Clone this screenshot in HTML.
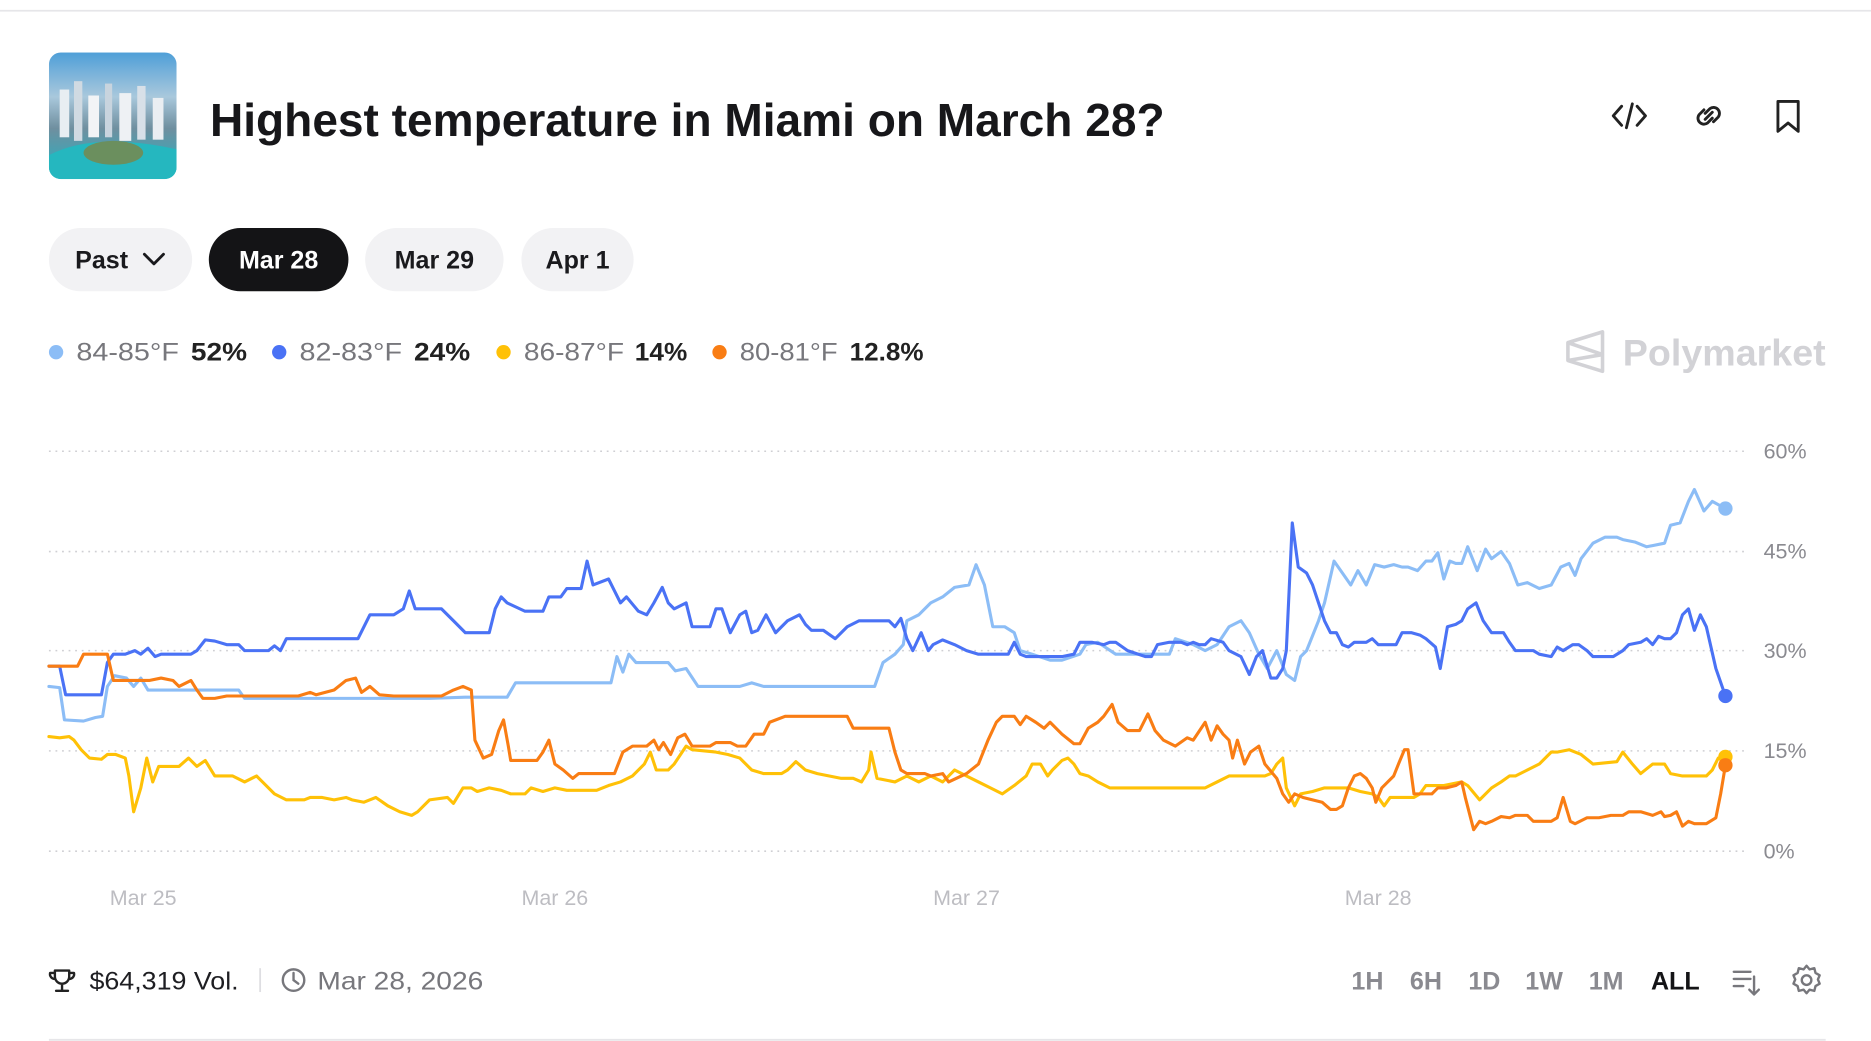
<!DOCTYPE html>
<html><head><meta charset="utf-8"><style>
html,body{margin:0;padding:0;background:#fff;overflow:hidden}
svg{display:block}
text{font-family:"Liberation Sans",sans-serif}
</style></head><body>
<svg width="1871" height="1041" viewBox="0 0 1568 872" preserveAspectRatio="none" xmlns="http://www.w3.org/2000/svg">
<defs>
<linearGradient id="sky" x1="0" y1="0" x2="0" y2="1">
<stop offset="0" stop-color="#4f9fd8"/><stop offset="0.35" stop-color="#a9c8dc"/><stop offset="0.6" stop-color="#6f8f9f"/><stop offset="1" stop-color="#1fb3c4"/></linearGradient>
<clipPath id="thumb"><rect x="41" y="44" width="107" height="106" rx="10"/></clipPath>
</defs>
<line x1="0" y1="9" x2="1568" y2="9" stroke="#e6e6e9" stroke-width="1.5"/>
<g clip-path="url(#thumb)">
<rect x="41" y="44" width="107" height="106" fill="url(#sky)"/>
<rect x="50" y="75" width="8" height="40" fill="#e8eef2"/><rect x="62" y="68" width="7" height="50" fill="#d0dae2"/><rect x="74" y="80" width="9" height="35" fill="#f2f4f6"/><rect x="88" y="70" width="6" height="45" fill="#c8d4de"/><rect x="100" y="78" width="10" height="40" fill="#eef1f4"/><rect x="115" y="72" width="7" height="45" fill="#d8e0e8"/><rect x="128" y="82" width="9" height="35" fill="#eaeef2"/>
<path d="M41 130 Q80 110 148 125 L148 150 L41 150Z" fill="#25b7bf"/>
<ellipse cx="95" cy="128" rx="25" ry="10" fill="#6b8f5e"/>
</g>
<text x="176" y="114" font-size="39" font-weight="700" fill="#17171a" textLength="800" lengthAdjust="spacingAndGlyphs">Highest temperature in Miami on March 28?</text>
<g fill="none" stroke="#222" stroke-width="2.4" stroke-linecap="round" stroke-linejoin="round">
<path d="M1359 89 L1352 97 L1359 105 M1372 89 L1379 97 L1372 105 M1368 87 L1363 107"/>
<path d="M1428 92 l-4 4 a5 5 0 0 0 7 7 l4 -4 M1436 102 l4 -4 a5 5 0 0 0 -7 -7 l-4 4 M1429 100 l6 -6"/>
<path d="M1490 85 h17 v25 l-8.5 -7 l-8.5 7 z"/>
</g>
<rect x="41" y="191" width="120" height="53" rx="26.5" fill="#f2f2f4"/>
<text x="63" y="225" font-size="21" font-weight="700" fill="#1a1a1d">Past</text>
<path d="M121 213 l8 8 l8 -8" fill="none" stroke="#1a1a1d" stroke-width="2.4" stroke-linecap="round" stroke-linejoin="round"/>
<rect x="175" y="191" width="117" height="53" rx="26.5" fill="#141416"/>
<text x="233.5" y="225" font-size="21" font-weight="700" fill="#fff" text-anchor="middle">Mar 28</text>
<rect x="306" y="191" width="116" height="53" rx="26.5" fill="#f2f2f4"/>
<text x="364" y="225" font-size="21" font-weight="700" fill="#1a1a1d" text-anchor="middle">Mar 29</text>
<rect x="437" y="191" width="94" height="53" rx="26.5" fill="#f2f2f4"/>
<text x="484" y="225" font-size="21" font-weight="700" fill="#1a1a1d" text-anchor="middle">Apr 1</text>
<g font-size="21">
<circle cx="47" cy="295" r="6" fill="#8cbdf6"/><text x="64" y="302" fill="#77777c" textLength="86" lengthAdjust="spacingAndGlyphs">84-85°F</text><text x="160" y="302" fill="#222" font-weight="700" textLength="47" lengthAdjust="spacingAndGlyphs">52%</text>
<circle cx="234" cy="295" r="6" fill="#4a72f5"/><text x="251" y="302" fill="#77777c" textLength="86" lengthAdjust="spacingAndGlyphs">82-83°F</text><text x="347" y="302" fill="#222" font-weight="700" textLength="47" lengthAdjust="spacingAndGlyphs">24%</text>
<circle cx="422" cy="295" r="6" fill="#ffc107"/><text x="439" y="302" fill="#77777c" textLength="84" lengthAdjust="spacingAndGlyphs">86-87°F</text><text x="532" y="302" fill="#222" font-weight="700" textLength="44" lengthAdjust="spacingAndGlyphs">14%</text>
<circle cx="603" cy="295" r="6" fill="#f97d14"/><text x="620" y="302" fill="#77777c" textLength="82" lengthAdjust="spacingAndGlyphs">80-81°F</text><text x="712" y="302" fill="#222" font-weight="700" textLength="62" lengthAdjust="spacingAndGlyphs">12.8%</text>
</g>
<g fill="none" stroke="#d2d2d6" stroke-width="3" stroke-linejoin="round">
<path d="M1314 287 L1343 278 L1343 311 L1314 302 Z M1314 287 L1343 297 L1314 302"/>
</g>
<text x="1360" y="306" font-size="31" font-weight="700" fill="#d2d2d6" textLength="170" lengthAdjust="spacingAndGlyphs">Polymarket</text>
<g stroke="#cfcfd3" stroke-width="1.3" stroke-dasharray="1.5 4">
<line x1="41" y1="378" x2="1462" y2="378"/><line x1="41" y1="462" x2="1462" y2="462"/><line x1="41" y1="545" x2="1462" y2="545"/><line x1="41" y1="629" x2="1462" y2="629"/><line x1="41" y1="713" x2="1462" y2="713"/>
</g>
<g font-size="18" fill="#8a8a90">
<text x="1478" y="384">60%</text><text x="1478" y="468">45%</text><text x="1478" y="551">30%</text><text x="1478" y="635">15%</text><text x="1478" y="719">0%</text>
</g>
<g font-size="18" fill="#bdbdc2" text-anchor="middle">
<text x="120" y="758">Mar 25</text><text x="465" y="758">Mar 26</text><text x="810" y="758">Mar 27</text><text x="1155" y="758">Mar 28</text>
</g>
<g fill="none" stroke-width="2.6" stroke-linejoin="round" stroke-linecap="round">
<polyline stroke="#8cbdf6" points="41,575 50,576 54,603 70,604 80,601 86,600 90,575 96,566 106,568 112,575 118,568 124,578 160,578 175,578 200,578 205,585 230,585 300,585 330,585 360,585 390,584 425,584 432,572 500,572 512,572 517,550 522,563 527,548 533,555 560,555 566,562 575,560 585,575 620,575 630,572 640,575 700,575 733,575 740,555 750,548 757,540 760,520 770,515 780,505 790,500 800,492 812,490 818,473 825,490 832,525 842,525 850,530 855,545 865,548 880,553 890,553 905,548 910,540 920,538 935,548 960,548 980,548 985,535 1000,540 1010,545 1020,540 1030,525 1040,520 1047,530 1055,548 1062,560 1070,545 1078,565 1085,570 1090,550 1095,545 1105,520 1110,505 1118,470 1125,480 1132,490 1138,478 1145,490 1152,473 1160,475 1168,473 1175,475 1180,475 1188,478 1195,470 1200,470 1205,463 1210,485 1215,470 1220,472 1225,472 1230,458 1238,478 1245,460 1250,468 1258,462 1265,472 1272,490 1280,488 1290,493 1300,490 1308,475 1315,472 1320,482 1325,468 1335,455 1345,450 1355,450 1360,452 1370,454 1380,458 1395,455 1400,440 1408,438 1415,420 1420,410 1428,428 1435,420 1446,426"/>
<polyline stroke="#4a72f5" points="41,558 50,558 55,582 85,582 90,555 95,548 105,548 113,545 118,548 124,543 130,550 135,548 160,548 165,545 172,536 180,537 190,540 200,540 205,545 225,545 230,541 235,545 240,535 300,535 310,515 330,515 338,510 343,495 348,510 370,510 380,520 390,530 410,530 415,510 420,500 425,505 440,512 455,512 460,500 470,500 475,493 487,493 492,470 497,490 510,485 515,495 520,505 525,500 535,512 542,515 548,505 555,492 560,505 565,510 575,505 580,525 595,525 600,510 605,510 612,530 620,515 625,512 630,530 635,528 642,515 650,530 655,525 660,520 670,515 675,523 680,528 690,528 700,535 710,525 720,520 730,520 745,520 750,525 755,518 760,535 765,545 772,530 778,545 782,540 790,536 800,540 810,545 820,548 845,548 850,538 855,548 860,550 890,550 900,548 905,538 915,538 925,540 930,538 935,538 945,545 960,550 965,550 970,540 980,538 990,538 995,540 1000,538 1005,540 1010,540 1015,535 1025,538 1030,545 1040,550 1047,565 1053,550 1058,545 1065,568 1070,568 1075,560 1078,545 1083,438 1088,475 1095,480 1100,490 1105,505 1110,520 1115,530 1120,530 1125,540 1130,542 1135,538 1145,538 1150,535 1155,540 1170,540 1175,530 1183,530 1190,532 1195,535 1203,542 1207,560 1213,525 1220,523 1225,520 1230,510 1237,505 1243,520 1250,530 1260,530 1265,538 1270,545 1278,545 1285,545 1290,548 1300,550 1305,542 1310,545 1318,540 1323,540 1330,545 1335,550 1345,550 1352,550 1360,545 1365,540 1375,538 1380,535 1385,540 1390,533 1395,535 1400,535 1405,530 1410,515 1415,510 1420,528 1425,515 1430,525 1438,560 1446,583"/>
<polyline stroke="#ffc107" points="41,617 50,618 58,617 62,620 68,628 75,635 85,636 90,632 97,632 105,635 108,650 112,680 118,660 123,635 128,655 133,642 150,642 158,635 165,642 172,637 180,650 195,650 205,655 215,650 220,655 230,665 240,670 255,670 260,668 270,668 280,670 290,668 295,670 305,672 315,668 325,675 335,680 345,683 350,680 360,670 375,668 380,673 388,660 395,660 400,663 410,660 420,662 428,665 440,665 445,660 455,663 465,660 475,662 500,662 510,658 520,655 530,650 540,640 545,630 550,645 560,645 565,640 575,625 580,628 600,630 610,632 620,635 630,645 640,648 655,648 660,645 667,638 675,645 685,648 695,650 705,652 715,652 722,655 728,645 730,630 735,652 750,655 760,650 770,655 780,650 790,655 800,645 810,650 820,655 830,660 840,665 850,658 860,650 865,640 872,640 878,650 882,645 890,637 895,635 900,640 905,648 912,650 920,655 930,660 990,660 1010,660 1020,655 1030,650 1060,650 1065,648 1070,640 1075,635 1078,660 1085,675 1090,665 1100,663 1110,660 1130,660 1140,663 1150,665 1155,668 1160,675 1165,668 1175,668 1185,668 1190,665 1195,658 1210,658 1225,655 1230,658 1240,670 1250,660 1258,655 1265,650 1270,650 1280,645 1290,640 1300,630 1305,630 1315,628 1320,630 1325,632 1335,640 1355,638 1360,630 1368,640 1375,648 1385,640 1395,640 1400,648 1410,650 1420,650 1430,650 1435,645 1440,635 1446,634"/>
<polyline stroke="#f97d14" points="41,558 65,558 70,548 90,548 95,570 110,570 125,570 135,568 145,570 150,575 160,570 165,578 170,585 180,585 190,583 230,583 250,583 260,580 265,582 280,578 290,570 298,568 303,580 310,575 318,582 330,583 370,583 380,578 388,575 395,578 398,620 405,635 412,632 418,612 422,603 426,625 428,637 450,637 455,630 460,620 465,640 472,645 480,652 485,648 495,648 515,648 522,630 530,625 542,625 548,620 552,628 556,622 562,632 568,618 574,615 580,625 595,625 600,622 612,622 618,625 625,625 632,615 640,615 645,605 658,600 710,600 715,610 728,610 745,610 750,630 755,645 760,648 775,648 780,650 790,648 795,655 810,648 820,640 828,620 835,605 840,600 850,600 855,607 860,600 868,605 875,610 880,605 890,615 900,623 905,623 912,610 920,605 925,600 932,590 937,605 945,612 955,612 962,598 968,612 975,620 985,625 995,618 1000,620 1010,605 1015,620 1020,608 1025,615 1030,620 1033,635 1037,620 1043,640 1048,630 1055,625 1060,640 1070,652 1075,665 1080,672 1085,665 1092,668 1100,670 1108,672 1115,678 1120,678 1125,675 1130,660 1135,650 1140,648 1145,652 1150,660 1153,672 1158,660 1163,655 1168,650 1172,640 1177,628 1180,628 1185,665 1190,665 1200,665 1205,660 1212,660 1220,658 1225,655 1228,668 1235,695 1240,688 1245,690 1250,688 1258,684 1265,685 1270,683 1280,683 1285,688 1290,688 1300,688 1305,685 1310,668 1316,688 1320,690 1330,685 1340,685 1350,683 1360,683 1365,680 1375,680 1385,683 1392,680 1395,684 1400,683 1405,680 1410,692 1415,688 1420,690 1430,690 1438,685 1442,665 1446,641"/>
</g>
<circle cx="1446" cy="426" r="6" fill="#8cbdf6"/>
<circle cx="1446" cy="583" r="6" fill="#4a72f5"/>
<circle cx="1446" cy="634" r="6" fill="#ffc107"/>
<circle cx="1446" cy="641" r="6" fill="#f97d14"/>
<g fill="none" stroke="#222" stroke-width="2" stroke-linejoin="round" stroke-linecap="round">
<path d="M46 813 h12 v5 a6 6 0 0 1 -12 0 z M46 815 h-4 a4 4 0 0 0 4 5 M58 815 h4 a4 4 0 0 1 -4 5 M52 824 v5 M47 830 h10"/>
</g>
<text x="75" y="829" font-size="21" fill="#1e1e22" textLength="125" lengthAdjust="spacingAndGlyphs">$64,319 Vol.</text>
<line x1="218" y1="811" x2="218" y2="831" stroke="#dedee2" stroke-width="1.5"/>
<circle cx="246" cy="821" r="9" fill="none" stroke="#77777c" stroke-width="2"/>
<path d="M246 815 v6 l4 3" fill="none" stroke="#77777c" stroke-width="2" stroke-linecap="round"/>
<text x="266" y="829" font-size="21" fill="#77777c" textLength="139" lengthAdjust="spacingAndGlyphs">Mar 28, 2026</text>
<g font-size="21" font-weight="700" fill="#8a8a90" text-anchor="middle">
<text x="1146" y="829">1H</text><text x="1195" y="829">6H</text><text x="1244" y="829">1D</text><text x="1294" y="829">1W</text><text x="1346" y="829">1M</text><text x="1404" y="829" fill="#141416">ALL</text>
</g>
<g fill="none" stroke="#77777c" stroke-width="2" stroke-linecap="round" stroke-linejoin="round">
<path d="M1453 814 h14 M1453 820 h14 M1453 826 h8 M1470 818 v15 M1466 829 l4 4 l4 -4"/>
<circle cx="1514" cy="821" r="4"/>
<path d="M1514 809 l2.5 3 l4 -1 l1 4 l3.5 2 l-1.5 3.5 l1.5 3.5 l-3.5 2 l-1 4 l-4 -1 l-2.5 3 l-2.5 -3 l-4 1 l-1 -4 l-3.5 -2 l1.5 -3.5 l-1.5 -3.5 l3.5 -2 l1 -4 l4 1 z"/>
</g>
<line x1="41" y1="871" x2="1530" y2="871" stroke="#e6e6e9" stroke-width="1.5"/>
</svg>
</body></html>
